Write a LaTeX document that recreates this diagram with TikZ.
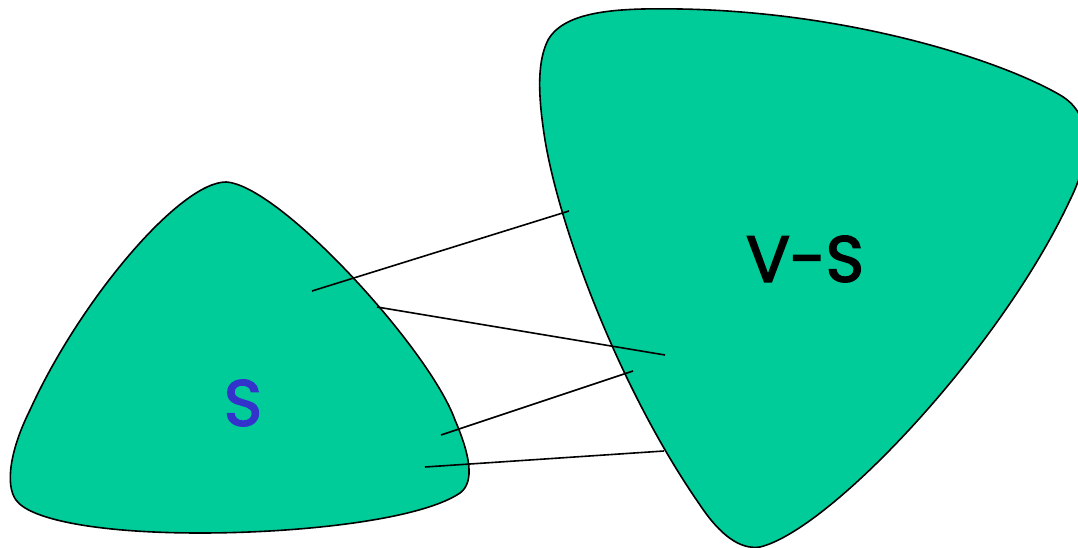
\documentclass[tikz,border=0pt]{standalone}
\usepackage{fontspec}
\setmainfont{Poppins}
\newfontfamily\labelfont{Poppins}[FakeBold=2.5]
\definecolor{setgreen}{RGB}{0,204,153}
\definecolor{setblue}{RGB}{51,51,204}
\tikzset{
  region/.style={fill=setgreen, draw=black, line width=1.6pt, line join=round},
  edgeline/.style={draw=black, line width=1.6pt},
  setlabel/.style={inner sep=0pt, font=\labelfont\fontsize{65}{70}\selectfont}
}
\begin{document}
\begin{tikzpicture}[x=1pt,y=-1pt]
\useasboundingbox (0,0) rectangle (1078,548);
\clip (0,0) rectangle (1078,548);

% the set S
\path[region] (226,182) .. controls (280,185) and (430,350) .. (455,420)
  .. controls (470,455) and (475,482) .. (460,493)
  .. controls (420,520) and (300,533) .. (200,533)
  .. controls (100,533) and (30,520) .. (16,500)
  .. controls (5,485) and (10,450) .. (30,410)
  .. controls (80,300) and (180,182) .. (226,182) -- cycle;

% the complement V-S
\path[region] (548,40) .. controls (565,10) and (620,8) .. (680,9)
  .. controls (850,12) and (1000,60) .. (1060,95)
  .. controls (1095,115) and (1090,160) .. (1070,200)
  .. controls (1000,350) and (830,530) .. (760,547)
  .. controls (740,550) and (720,535) .. (700,505)
  .. controls (620,390) and (560,230) .. (545,140)
  .. controls (537,90) and (538,60) .. (548,40) -- cycle;

\node[setlabel, text=setblue] (s) at (243,403) {S};
\node[setlabel, text=black] (vs) at (805,259) {V-S};

% endpoints of the crossing edges
\coordinate (a1) at (312,291);
\coordinate (b1) at (569,211);
\coordinate (a2) at (377,307);
\coordinate (b2) at (665,355);
\coordinate (a3) at (441,435);
\coordinate (b3) at (633,371);
\coordinate (a4) at (425,467);
\coordinate (b4) at (664,451);

\draw[edgeline] (a1) -- (b1);
\draw[edgeline] (a2) -- (b2);
\draw[edgeline] (a3) -- (b3);
\draw[edgeline] (a4) -- (b4);
\end{tikzpicture}
\end{document}
